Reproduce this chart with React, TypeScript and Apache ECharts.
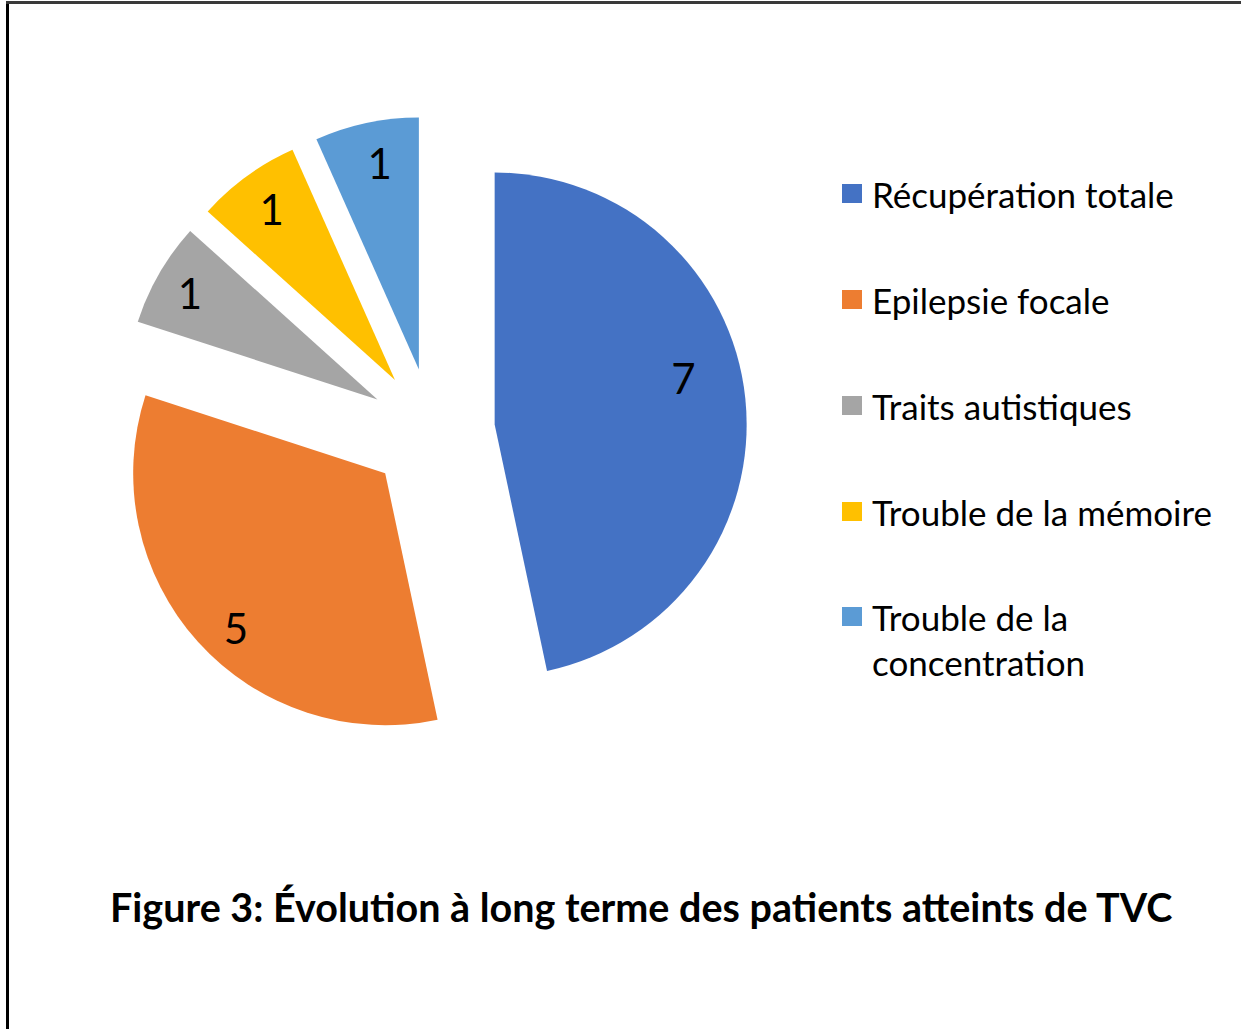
import React, { useEffect, useRef } from "react";
import * as echarts from "echarts";

const categories = [
  "Récupération totale",
  "Epilepsie focale",
  "Traits autistiques",
  "Trouble de la mémoire",
  "Trouble de la concentration",
];
const values = [7, 5, 1, 1, 1];
const colors = ["#4472C4", "#ED7D31", "#A5A5A5", "#FFC000", "#5B9BD5"];
const titleText = "Figure 3: Évolution à long terme des patients atteints de TVC";

// small per-label nudges (Excel places large-slice labels off the bisector)
const labelNudges: number[][] = [
  [-23, -24],
  [9, 12],
  [-3, 0],
  [2, 1],
  [5, 2],
];

const FONT = "Lato, 'Open Sans', sans-serif";

export default function App() {
  const ref = useRef<HTMLDivElement>(null);
  useEffect(() => {
    document.body.style.margin = "0";
    if (!ref.current) return;
    const chart = echarts.init(ref.current, undefined, { renderer: "svg" });
    const pieData = categories.map((name, i) => ({
      name,
      value: values[i],
      selected: true,
      itemStyle: { color: colors[i] },
    }));
    const labelData = categories.map((name, i) => ({
      name,
      value: values[i],
      selected: true,
    }));
    const legendText = {
      fontFamily: FONT,
      fontSize: 35,
      color: "#000",
      lineHeight: 45,
      padding: [0, 0, 0, 5],
    };
    chart.setOption({
      animation: false,
      backgroundColor: "#fff",
      title: {
        text: titleText,
        left: 110,
        top: 886,
        padding: 0,
        textStyle: {
          fontFamily: FONT,
          fontWeight: "bold",
          fontSize: 39.5,
          color: "#000",
        },
      },
      legend: [
        {
          orient: "vertical",
          left: 842,
          top: 171,
          padding: 0,
          itemWidth: 20,
          itemHeight: 19,
          itemGap: 61,
          icon: "rect",
          selectedMode: false,
          data: categories.slice(0, 4),
          textStyle: legendText,
        },
        {
          orient: "vertical",
          left: 842,
          top: 549,
          padding: 0,
          itemWidth: 20,
          itemHeight: 19,
          icon: "rect",
          selectedMode: false,
          data: [categories[4]],
          // leading blank line keeps the marker aligned with the first text line
          formatter: () => "\u00a0\nTrouble de la\nconcentration",
          textStyle: legendText,
        },
      ],
      graphic: [
        { type: "rect", shape: { x: 6, y: 1, width: 3, height: 1028 }, style: { fill: "#000" } },
        { type: "rect", shape: { x: 6, y: 1, width: 1235, height: 3 }, style: { fill: "#3a3a3a" } },
      ],
      series: [
        {
          type: "pie",
          center: [432, 431],
          radius: 252,
          startAngle: 90,
          clockwise: true,
          selectedMode: "multiple",
          selectedOffset: 63,
          silent: true,
          label: { show: false },
          labelLine: { show: false },
          itemStyle: { borderWidth: 0 },
          emphasis: { disabled: true },
          data: pieData,
        },
        {
          type: "pie",
          center: [432, 431],
          radius: [168, 252],
          startAngle: 90,
          clockwise: true,
          selectedMode: "multiple",
          selectedOffset: 63,
          silent: true,
          itemStyle: { color: "rgba(0,0,0,0)", borderWidth: 0 },
          label: {
            show: true,
            position: "inner",
            formatter: "{c}",
            fontFamily: FONT,
            fontSize: 42,
            color: "#000",
          },
          labelLine: { show: false },
          labelLayout: (p: any) => ({
            dx: labelNudges[p.dataIndex][0],
            dy: labelNudges[p.dataIndex][1],
          }),
          emphasis: { disabled: true },
          data: labelData,
        },
      ],
    });
    return () => chart.dispose();
  }, []);
  return <div ref={ref} style={{ width: 1241, height: 1029 }} />;
}
